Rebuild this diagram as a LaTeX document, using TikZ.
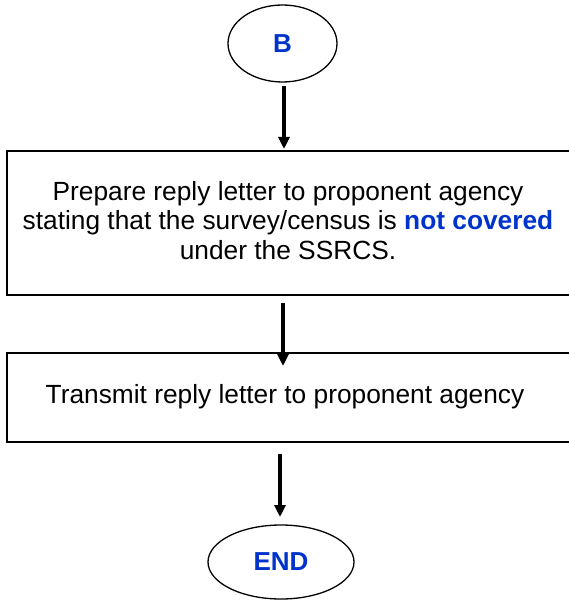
\documentclass[tikz,border=0pt]{standalone}
\usepackage{fontspec}
\setmainfont{Liberation Sans}
\usetikzlibrary{arrows.meta,shapes.geometric}
\definecolor{lblue}{RGB}{0,51,204}
\tikzset{
  term/.style={ellipse,draw,line width=1.3bp,inner sep=0pt,font=\bfseries\fontsize{26bp}{30bp}\selectfont,text=lblue},
  procbox/.style={rectangle,draw,line width=2bp,inner sep=0pt},
  lbl/.style={inner sep=0pt,align=center,font=\fontsize{26.3bp}{29.5bp}\selectfont},
  arr/.style={line width=3.3bp,-{Triangle[length=12bp,width=11bp]}},
}
\begin{document}
\begin{tikzpicture}[x=1bp,y=-1bp]
\useasboundingbox (0,0) rectangle (569,600);
\clip (0,0) rectangle (569,600);
\node[term,minimum width=109bp,minimum height=77bp] (B) at (282.5,43.5) {B};
\node[procbox,minimum width=593bp,minimum height=144bp] (box1) at (303.5,223) {};
\node[lbl] (t1) at (288,220.5) {Prepare reply letter to proponent agency\\stating that the survey/census is \textcolor{lblue}{\bfseries not covered}\\under the SSRCS.};
\node[procbox,minimum width=593bp,minimum height=89bp] (box2) at (303.5,397.5) {};
\node[lbl] (t2) at (285,397) {Transmit reply letter to proponent agency};
\node[term,minimum width=146bp,minimum height=74bp] (END) at (281,562) {END};
\coordinate (a1s) at (284,86);
\coordinate (a1e) at (284,149);
\coordinate (a2s) at (283,303);
\coordinate (a2e) at (283,366);
\coordinate (a3s) at (280,454);
\coordinate (a3e) at (280,517);
\draw[arr] (a1s) -- (a1e);
\draw[arr] (a2s) -- (a2e);
\draw[arr] (a3s) -- (a3e);
\end{tikzpicture}
\end{document}
